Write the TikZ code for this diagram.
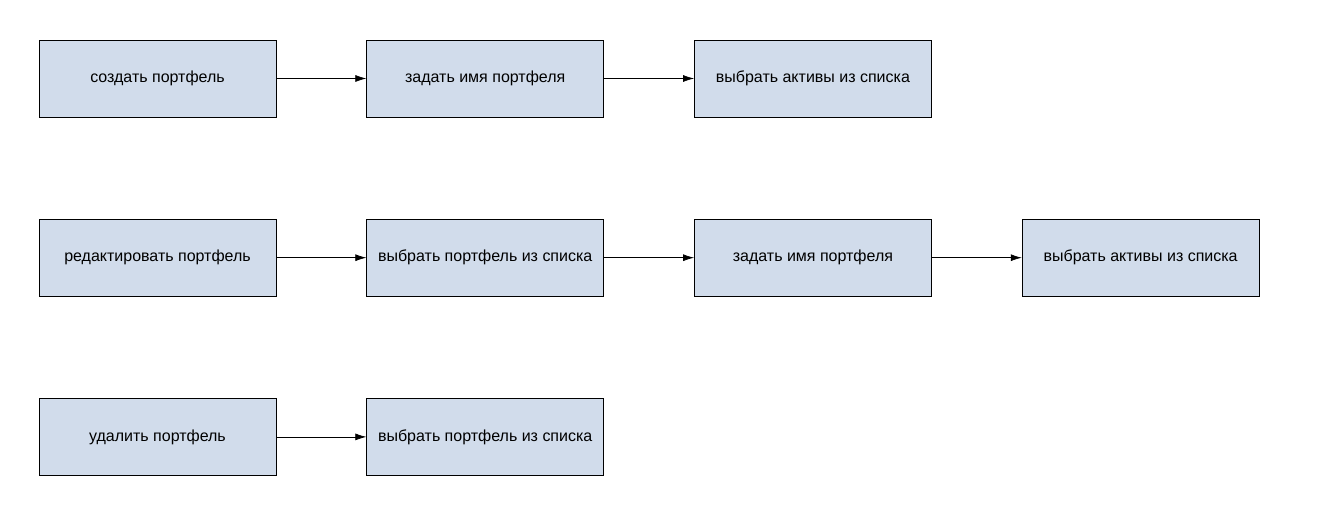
\documentclass[tikz,border=0pt]{standalone}
\usepackage{fontspec}
\setmainfont{Liberation Sans}
\usetikzlibrary{positioning,arrows.meta}

\definecolor{boxfill}{HTML}{D1DCEB}
\tikzset{
  stepbox/.style={draw=black,fill=boxfill,minimum width=4.74cm,minimum height=1.54cm,
    inner sep=0pt,font=\fontsize{9.1}{11}\selectfont},
  flow/.style={-{Latex[length=2.2mm,width=1.4mm]},thin}
}

\begin{document}
\begin{tikzpicture}
    \useasboundingbox (0,0) rectangle (26.38,10.6);
    % create
    \node[stepbox] (create) at (3.15,9.03) {создать портфель};
    \node[stepbox,right=1.8cm of create] (cname) {задать имя портфеля};
    \node[stepbox,right=1.8cm of cname] (cassets) {выбрать активы из списка};
    % edit
    \node[stepbox,below=2.03cm of create] (edit) {редактировать портфель};
    \node[stepbox,right=1.8cm of edit] (epick) {выбрать портфель из списка};
    \node[stepbox,right=1.8cm of epick] (ename) {задать имя портфеля};
    \node[stepbox,right=1.8cm of ename] (eassets) {выбрать активы из списка};
    % delete
    \node[stepbox,below=2.03cm of edit] (delete) {удалить портфель};
    \node[stepbox,right=1.8cm of delete] (dpick) {выбрать портфель из списка};

    \draw[flow] (create) -- (cname);
    \draw[flow] (cname) -- (cassets);
    \draw[flow] (edit) -- (epick);
    \draw[flow] (epick) -- (ename);
    \draw[flow] (ename) -- (eassets);
    \draw[flow] (delete) -- (dpick);
\end{tikzpicture}
\end{document}
